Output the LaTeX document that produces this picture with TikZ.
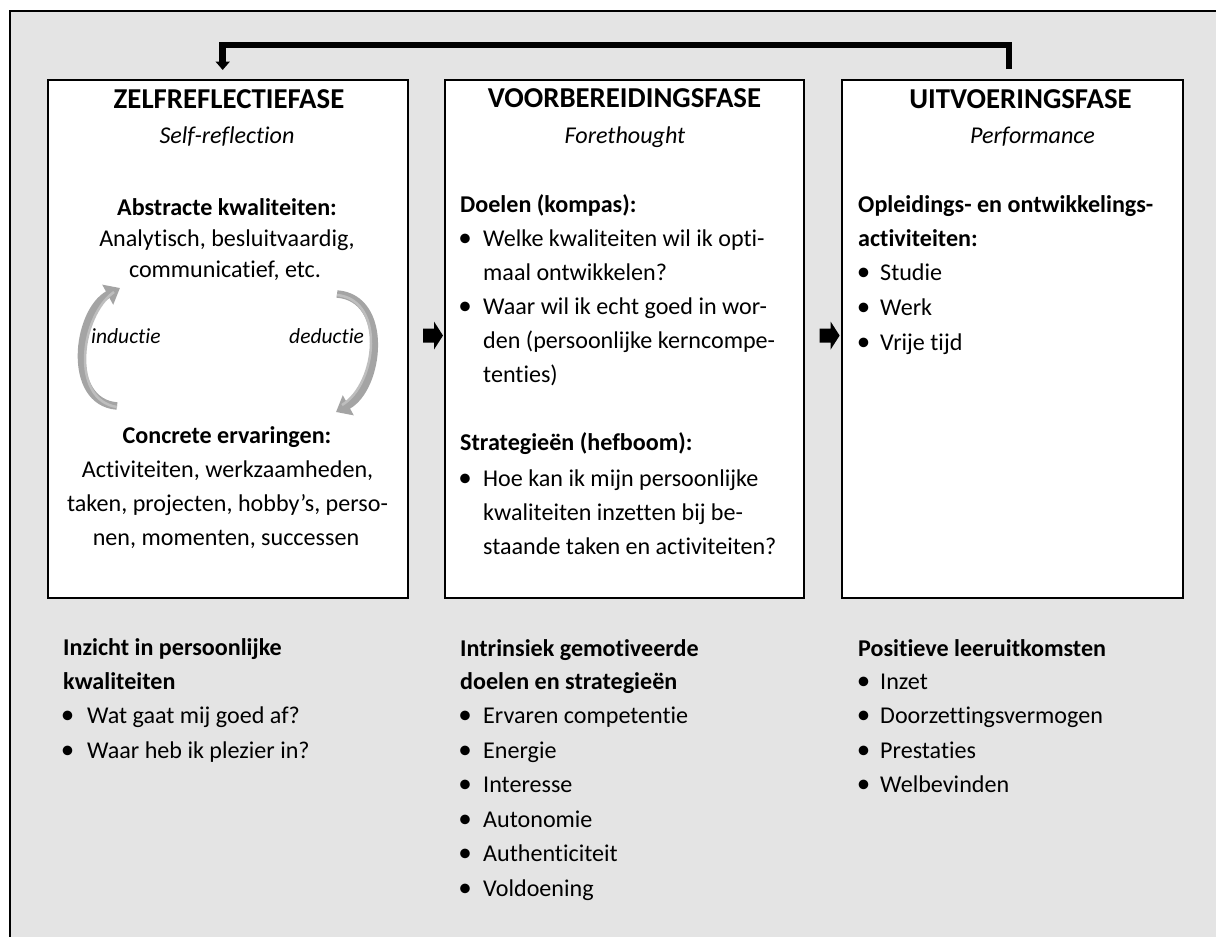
\documentclass[tikz,border=0pt]{standalone}
\usepackage{fontspec}
\setmainfont{Carlito}[Ligatures={NoCommon,NoContextual}]
\usetikzlibrary{arrows.meta,calc}
\definecolor{bgray}{HTML}{E4E4E4}
\definecolor{cgray}{HTML}{A4A4A4}
\definecolor{cgrayl}{HTML}{BEBEBE}
\begin{document}
\begin{tikzpicture}[x=1pt,y=-1pt,
  txt/.style={inner sep=0pt, font=\fontsize{24.1pt}{28pt}\selectfont},
  bld/.style={inner sep=0pt, font=\fontsize{24.1pt}{28pt}\selectfont\bfseries},
  itl/.style={inner sep=0pt, font=\fontsize{24.1pt}{28pt}\selectfont\itshape},
  sitl/.style={inner sep=0pt, font=\fontsize{21.5pt}{26pt}\selectfont\itshape},
  ttl/.style={inner sep=0pt, font=\fontsize{28.8pt}{34pt}\selectfont\bfseries, anchor=base},
  phase/.style={draw, line width=2pt, fill=white, inner sep=0pt},
  bul/.style={inner sep=0pt, font=\fontsize{27pt}{28pt}\selectfont, anchor=base},
  circ/.style={draw=cgray, line width=7.5pt, -{Triangle[width=22pt,length=14pt]}},
  circhl/.style={draw=cgrayl, line width=2.5pt},
  fb/.style={line width=6.5pt, line join=miter, -{Triangle[width=14pt,length=8.5pt]}},
  blockarrow/.style={fill=black}
]
\useasboundingbox (0,0) rectangle (1216,937);
% background frame
\fill[bgray] (10,10) rectangle (1216,937);
\draw[line width=2.5pt] (10,937) -- (10,11) -- (1216,11);

% phase boxes
\node[phase, minimum width=359.4pt, minimum height=517.7pt] (box1) at (228,338.85) {};
\node[phase, minimum width=359pt, minimum height=517.7pt] (box2) at (624.8,338.85) {};
\node[phase, minimum width=340.5pt, minimum height=517.7pt] (box3) at (1012.25,338.85) {};

% feedback connector
\coordinate (fbs) at (1008.8,69);
\coordinate (fbe) at (222.7,70);
\coordinate (fbtop) at (600,45);
\draw[fb] (fbs) -- (fbs |- fbtop) -- (fbe |- fbtop) -- (fbe);

% block arrows between boxes
\coordinate (a1) at ($(box1.east)+(14.3,-3.3)$);
\coordinate (a2) at ($(box2.east)+(14.3,-3.3)$);
\fill[blockarrow] (a1) ++(0,-7) -- ++(11,0) -- ++(0,-7) -- ++(9,14) -- ++(-9,14) -- ++(0,-7) -- ++(-11,0) -- cycle;
\fill[blockarrow] (a2) ++(0,-7) -- ++(11,0) -- ++(0,-7) -- ++(9,14) -- ++(-9,14) -- ++(0,-7) -- ++(-11,0) -- cycle;

% box 1
\node[ttl] (t1) at (229,108) {ZELFREFLECTIEFASE};
\node[itl, anchor=base] (s1) at (227,143) {Self-reflection};
\node[bld, anchor=base] (b1a) at (227,215) {Abstracte kwaliteiten:};
\node[txt, anchor=base] (b1b) at (227,246.5) {Analytisch, besluitvaardig,};
\node[txt, anchor=base] (b1c) at (225,277.5) {communicatief, etc.};
\node[sitl, anchor=base west] (ind) at (91,343) {inductie};
\node[sitl, anchor=base west] (ded) at (289,343) {deductie};
\node[bld, anchor=base] (b1d) at (227,443.5) {Concrete ervaringen:};
\node[txt, anchor=base] (b1e) at (227.5,477) {Activiteiten, werkzaamheden,};
\node[txt, anchor=base] (b1f) at (227.5,511) {taken, projecten, hobby’s, perso-};
\node[txt, anchor=base] (b1g) at (226,545) {nen, momenten, successen};

% circular arrows
\coordinate (c1s) at (117,406);
\coordinate (c1e) at (120,288);
\coordinate (c2s) at (337,294);
\coordinate (c2e) at (336,412);
\draw[circ] (c1s) .. controls (66,402) and (76,312) .. (c1e);
\draw[circ] (c2s) .. controls (390,298) and (380,388) .. (c2e);
\draw[circhl] ($(c1s)+(0,1)$) .. controls (70,400) and (80,316) .. ($(c1e)+(-6,4)$);
\draw[circhl] ($(c2s)+(0,1)$) .. controls (386,300) and (377,384) .. ($(c2e)+(6,-7)$);

% box 2
\node[ttl] (t2) at (624.5,107.5) {VOORBEREIDINGSFASE};
\node[itl, anchor=base] (s2) at (625,143.3) {Forethought};
\node[bld, anchor=base west] (b2a) at (460,212) {Doelen (kompas):};
\node[bul] (u2a) at (465,246.5) {•};
\node[txt, anchor=base west] (b2b) at (483,246.5) {Welke kwaliteiten wil ik opti-};
\node[txt, anchor=base west] (b2c) at (483,280.5) {maal ontwikkelen?};
\node[bul] (u2b) at (465,314) {•};
\node[txt, anchor=base west] (b2d) at (483,314) {Waar wil ik echt goed in wor-};
\node[txt, anchor=base west] (b2e) at (483,348) {den (persoonlijke kerncompe-};
\node[txt, anchor=base west] (b2f) at (483,382) {tenties)};
\node[bld, anchor=base west] (b2g) at (460,450.5) {Strategieën (hefboom):};
\node[bul] (u2c) at (465,486.5) {•};
\node[txt, anchor=base west] (b2h) at (483,486.5) {Hoe kan ik mijn persoonlijke};
\node[txt, anchor=base west] (b2i) at (483,520) {kwaliteiten inzetten bij be-};
\node[txt, anchor=base west] (b2j) at (483,554) {staande taken en activiteiten?};

% box 3
\node[ttl] (t3) at (1020.5,108.3) {UITVOERINGSFASE};
\node[itl, anchor=base] (s3) at (1032.5,143.3) {Performance};
\node[bld, anchor=base west] (b3a) at (858,212.7) {Opleidings- en ontwikkelings-};
\node[bld, anchor=base west] (b3b) at (858,246) {activiteiten:};
\node[bul] (u3a) at (863.5,280) {•};
\node[txt, anchor=base west] (b3c) at (880,280) {Studie};
\node[bul] (u3b) at (863.5,315) {•};
\node[txt, anchor=base west] (b3d) at (880,315) {Werk};
\node[bul] (u3c) at (863.5,350) {•};
\node[txt, anchor=base west] (b3e) at (880,350) {Vrije tijd};

% bottom column 1
\node[bld, anchor=base west] (o1a) at (63,655.7) {Inzicht in persoonlijke};
\node[bld, anchor=base west] (o1b) at (63,689) {kwaliteiten};
\node[bul] (v1a) at (67.5,723.3) {•};
\node[txt, anchor=base west] (o1c) at (87,723.3) {Wat gaat mij goed af?};
\node[bul] (v1b) at (67.5,758) {•};
\node[txt, anchor=base west] (o1d) at (87,758) {Waar heb ik plezier in?};

% bottom column 2
\node[bld, anchor=base west] (o2a) at (460,656) {Intrinsiek gemotiveerde};
\node[bld, anchor=base west] (o2b) at (460,689.5) {doelen en strategieën};
\node[bul] (v2a) at (465,723.5) {•};
\node[txt, anchor=base west] (o2c) at (483,723.5) {Ervaren competentie};
\node[bul] (v2b) at (465,758) {•};
\node[txt, anchor=base west] (o2d) at (483,758) {Energie};
\node[bul] (v2c) at (465,792.5) {•};
\node[txt, anchor=base west] (o2e) at (483,792.5) {Interesse};
\node[bul] (v2d) at (465,827) {•};
\node[txt, anchor=base west] (o2f) at (483,827) {Autonomie};
\node[bul] (v2e) at (465,861.5) {•};
\node[txt, anchor=base west] (o2g) at (483,861.5) {Authenticiteit};
\node[bul] (v2f) at (465,896) {•};
\node[txt, anchor=base west] (o2h) at (483,896) {Voldoening};

% bottom column 3
\node[bld, anchor=base west] (o3a) at (858,656) {Positieve leeruitkomsten};
\node[bul] (v3a) at (863.5,689.5) {•};
\node[txt, anchor=base west] (o3b) at (880,689.5) {Inzet};
\node[bul] (v3b) at (863.5,723.5) {•};
\node[txt, anchor=base west] (o3c) at (880,723.5) {Doorzettingsvermogen};
\node[bul] (v3c) at (863.5,758) {•};
\node[txt, anchor=base west] (o3d) at (880,758) {Prestaties};
\node[bul] (v3d) at (863.5,792.5) {•};
\node[txt, anchor=base west] (o3e) at (880,792.5) {Welbevinden};
\end{tikzpicture}
\end{document}
